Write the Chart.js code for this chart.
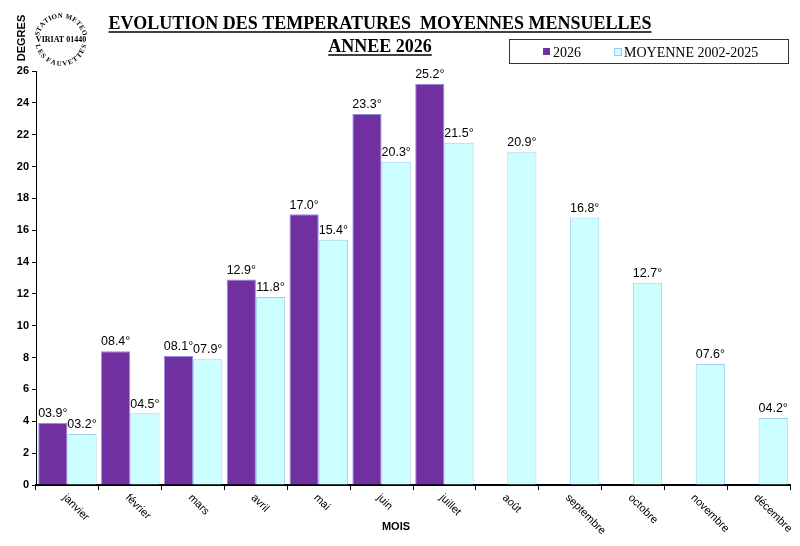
<!DOCTYPE html>
<html>
<head>
<meta charset="utf-8">
<script src="https://cdn.jsdelivr.net/npm/chart.js@4/dist/chart.umd.min.js"></script>
<style>
  body { margin: 0; background: #fff; }
  #wrap { width: 800px; height: 546px; }
</style>
</head>
<body>
<div id="wrap"><canvas id="tempChart"></canvas></div>
<script>
// Donnees
const mois = ['janvier', 'février', 'mars', 'avril', 'mai', 'juin', 'juillet', 'août', 'septembre', 'octobre', 'novembre', 'décembre'];
const annee2026 = [3.9, 8.4, 8.1, 12.9, 17.0, 23.3, 25.2, null, null, null, null, null];
const moyenne = [3.2, 4.5, 7.9, 11.8, 15.4, 20.3, 21.5, 20.9, 16.8, 12.7, 7.6, 4.2];
const yMin = 0;
const yMax = 26;
const yStep = 2;

const titre1 = 'EVOLUTION DES TEMPERATURES  MOYENNES MENSUELLES';
const titre2 = 'ANNEE 2026';
const legende = ['2026', 'MOYENNE 2002-2025'];

const violet = '#7030a0';
const cyan = '#ccffff';

function fmt(v) {
  return (v < 10 ? '0' : '') + v.toFixed(1) + '°';
}

// texte en arc pour le tampon de la station
function arcText(ctx, text, cx, cy, r, span, top) {
  const chars = [...text];
  const widths = chars.map(c => ctx.measureText(c).width);
  const total = widths.reduce((a, b) => a + b, 0);
  const k = span / total;
  let a = top ? -Math.PI / 2 - span / 2 : Math.PI / 2 + span / 2;
  chars.forEach((c, i) => {
    const w = widths[i] * k;
    const mid = top ? a + w / 2 : a - w / 2;
    ctx.save();
    ctx.translate(cx + r * Math.cos(mid), cy + r * Math.sin(mid));
    ctx.rotate(top ? mid + Math.PI / 2 : mid - Math.PI / 2);
    ctx.textAlign = 'center';
    ctx.textBaseline = 'middle';
    ctx.fillText(c, 0, 0);
    ctx.restore();
    a = top ? a + w : a - w;
  });
}

const decorPlugin = {
  id: 'decor',
  afterDatasetsDraw(chart) {
    const ctx = chart.ctx;
    ctx.save();
    ctx.fillStyle = '#000';
    ctx.font = '12.5px Arial, "Liberation Sans"';
    ctx.textAlign = 'center';
    ctx.textBaseline = 'bottom';
    chart.data.datasets.forEach((ds, di) => {
      const meta = chart.getDatasetMeta(di);
      meta.data.forEach((bar, i) => {
        const v = ds.data[i];
        if (v === null || v === undefined) return;
        ctx.fillText(fmt(v), bar.x, bar.y - 3);
      });
    });
    ctx.restore();
  },
  afterDraw(chart) {
    const ctx = chart.ctx;
    const xs = chart.scales.x;
    ctx.save();
    ctx.fillStyle = '#000';
    ctx.strokeStyle = '#000';

    // titre souligne
    ctx.font = 'bold 18px "Times New Roman", "Liberation Serif", serif';
    ctx.textAlign = 'center';
    ctx.textBaseline = 'alphabetic';
    [[titre1, 29], [titre2, 52]].forEach(([t, y]) => {
      ctx.fillText(t, 380, y);
      const w = ctx.measureText(t).width;
      ctx.lineWidth = 1.5;
      ctx.beginPath();
      ctx.moveTo(380 - w / 2, y + 3);
      ctx.lineTo(380 + w / 2, y + 3);
      ctx.stroke();
    });

    // legende encadree
    ctx.lineWidth = 1;
    ctx.strokeStyle = '#333';
    ctx.strokeRect(509.5, 39.5, 279, 24);
    ctx.font = '14px "Times New Roman", "Liberation Serif", serif';
    ctx.textAlign = 'left';
    ctx.fillStyle = violet;
    ctx.fillRect(543, 48, 7, 7);
    ctx.fillStyle = cyan;
    ctx.fillRect(614, 48, 7, 7);
    ctx.strokeStyle = '#99ccee';
    ctx.strokeRect(614.5, 48.5, 7, 7);
    ctx.fillStyle = '#000';
    ctx.fillText(legende[0], 553, 57);
    ctx.fillText(legende[1], 624, 57);

    // mois inclines
    ctx.font = '11px Arial, "Liberation Sans"';
    ctx.textBaseline = 'middle';
    mois.forEach((m, i) => {
      const x = xs.getPixelForValue(i);
      ctx.save();
      ctx.translate(x - 3, xs.top + 11);
      ctx.rotate(Math.PI / 4);
      ctx.fillText(m, 0, 0);
      ctx.restore();
    });

    // titres d'axes
    ctx.font = 'bold 11px Arial, "Liberation Sans"';
    ctx.textAlign = 'center';
    ctx.fillText('MOIS', 396, 527);
    ctx.save();
    ctx.translate(22, 38);
    ctx.rotate(-Math.PI / 2);
    ctx.fillText('DEGRES', 0, 0);
    ctx.restore();

    // tampon
    ctx.font = 'bold 8px "Times New Roman", "Liberation Serif", serif';
    ctx.fillText('VIRIAT 01440', 61, 40);
    ctx.font = 'bold 7px "Times New Roman", "Liberation Serif", serif';
    arcText(ctx, 'STATION METEO', 61, 40, 24, 2.8, true);
    arcText(ctx, 'LES FAUVETTES', 61, 40, 24, 2.8, false);
    ctx.restore();
  }
};

const ctx = document.getElementById('tempChart').getContext('2d');
const tempChart = new Chart(ctx, {
  type: 'bar',
  data: {
    labels: mois,
    datasets: [{
      label: legende[0],
      data: annee2026,
      backgroundColor: violet,
      borderColor: '#8f8fe8',
      borderWidth: 1
    }, {
      label: legende[1],
      data: moyenne,
      backgroundColor: cyan,
      borderColor: '#a6cdf0',
      borderWidth: 1
    }]
  },
  options: {
    responsive: true,
    maintainAspectRatio: false,
    animation: false,
    layout: { padding: { top: 71, right: 10, left: 0, bottom: 0 } },
    datasets: { bar: { categoryPercentage: 0.93, barPercentage: 1.0 } },
    plugins: {
      legend: { display: false },
      title: { display: false },
      tooltip: { enabled: false }
    },
    scales: {
      x: {
        grid: { drawOnChartArea: false, color: '#000', tickLength: 5, offset: true },
        border: { color: '#000', width: 2 },
        ticks: { display: false },
        afterFit: s => { s.height = 61; }
      },
      y: {
        min: yMin,
        max: yMax,
        ticks: {
          stepSize: yStep,
          color: '#000',
          padding: 3,
          font: { family: 'Arial, "Liberation Sans"', size: 11, weight: 'bold' }
        },
        grid: { drawOnChartArea: false, color: '#000', tickLength: 4 },
        border: { color: '#000', width: 1 },
        afterFit: s => { s.width = 36; }
      }
    }
  },
  plugins: [decorPlugin]
});
</script>
</body>
</html>
